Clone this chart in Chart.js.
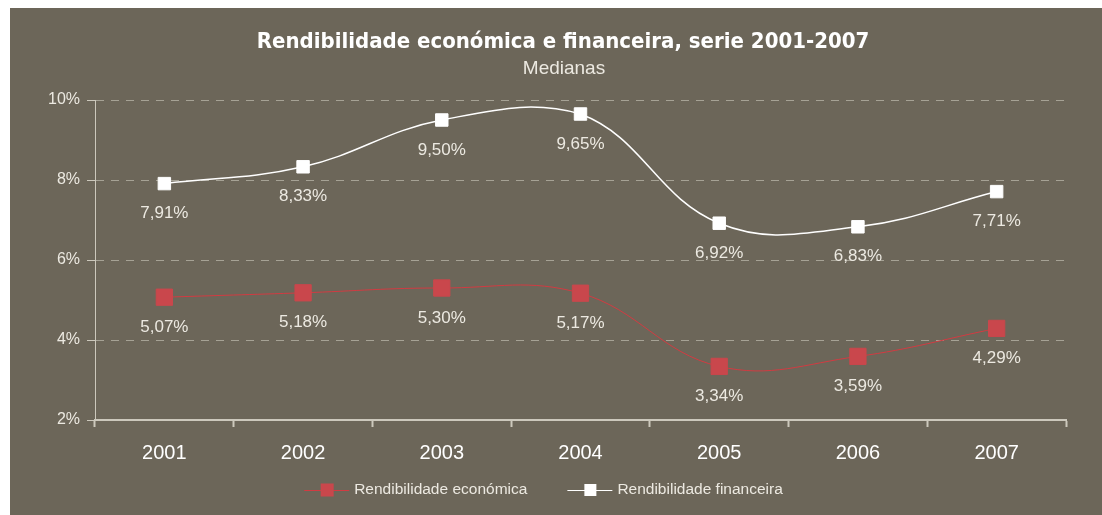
<!DOCTYPE html>
<html>
<head>
<meta charset="utf-8">
<script src="https://cdn.jsdelivr.net/npm/chart.js@4"></script>
<style>
  html, body { margin: 0; padding: 0; background: #fff; }
  #panel { position: absolute; left: 10px; top: 8px; width: 1092px; height: 507px; background: #6c6659; }
</style>
</head>
<body>
<div id="panel"><canvas id="c"></canvas></div>
<script>
// Medianas, 2001-2007
const years = ['2001', '2002', '2003', '2004', '2005', '2006', '2007'];
const rendEconomica = [5.07, 5.18, 5.30, 5.17, 3.34, 3.59, 4.29];
const rendFinanceira = [7.91, 8.33, 9.50, 9.65, 6.92, 6.83, 7.71];
const yTicks = [2, 4, 6, 8, 10];

const titleText = 'Rendibilidade económica e financeira, serie 2001-2007';
const subtitleText = 'Medianas';

const RED = '#c9474c';
const WHITE = '#ffffff';
const LABEL = '#ece9e1';
const AXIS = '#ccc8bc';
const SANS = '"Liberation Sans", Arial, sans-serif';

const fmt = v => v.toFixed(2).replace('.', ',') + '%';

// Title + subtitle: the original centres them a bit right of the plot,
// so they are drawn here rather than with the title plugin.
const heading = {
  id: 'heading',
  afterDraw(chart) {
    const ctx = chart.ctx;
    ctx.save();
    ctx.textAlign = 'center';
    ctx.textBaseline = 'middle';
    ctx.fillStyle = WHITE;
    ctx.font = 'bold 22px "DejaVu Sans Condensed", "DejaVu Sans", sans-serif';
    ctx.fillText(titleText, 553, 34);
    ctx.fillStyle = LABEL;
    ctx.font = '19px ' + SANS;
    ctx.fillText(subtitleText, 554, 60.5);
    ctx.restore();
  }
};

// Value labels under each marker.
const valueLabels = {
  id: 'valueLabels',
  afterDatasetsDraw(chart) {
    const ctx = chart.ctx;
    ctx.save();
    ctx.font = '17px ' + SANS;
    ctx.fillStyle = LABEL;
    ctx.textAlign = 'center';
    ctx.textBaseline = 'middle';
    chart.data.datasets.forEach((ds, i) => {
      chart.getDatasetMeta(i).data.forEach((pt, j) => {
        ctx.fillText(fmt(ds.data[j]), pt.x, pt.y + 30);
      });
    });
    ctx.restore();
  }
};

// Legend drawn as line-through-marker, like the original.
const lineLegend = {
  id: 'lineLegend',
  afterDraw(chart) {
    const ctx = chart.ctx;
    ctx.save();
    ctx.font = '15.5px ' + SANS;
    ctx.textBaseline = 'middle';
    const icon = 45, gapText = 5, gapItem = 40, y = 482;
    const items = chart.data.datasets.map(ds => ({ ds, w: ctx.measureText(ds.label).width }));
    const total = items.reduce((s, it) => s + icon + gapText + it.w, 0) + gapItem * (items.length - 1);
    let x = 533.5 - total / 2;
    items.forEach(({ ds, w }) => {
      ctx.strokeStyle = ds.borderColor;
      ctx.lineWidth = 1;
      ctx.beginPath();
      ctx.moveTo(x, y + 0.5);
      ctx.lineTo(x + icon, y + 0.5);
      ctx.stroke();
      const s = ds.legendBox;
      ctx.fillStyle = ds.pointBackgroundColor;
      ctx.fillRect(x + 23 - s / 2, y - s / 2, s, s);
      ctx.fillStyle = LABEL;
      ctx.fillText(ds.label, x + icon + gapText, y);
      x += icon + gapText + w + gapItem;
    });
    ctx.restore();
  }
};

new Chart(document.getElementById('c'), {
  type: 'line',
  data: {
    labels: years,
    datasets: [
      {
        label: 'Rendibilidade económica',
        data: rendEconomica,
        borderColor: '#d23b42',
        borderWidth: 1,
        tension: 0.4,
        pointStyle: 'rect',
        pointRadius: 11.5,
        pointBorderWidth: 1,
        pointBackgroundColor: RED,
        pointBorderColor: RED,
        legendBox: 13
      },
      {
        label: 'Rendibilidade financeira',
        data: rendFinanceira,
        borderColor: WHITE,
        borderWidth: 1.5,
        tension: 0.4,
        pointStyle: 'rect',
        pointRadius: 8.8,
        pointBorderWidth: 1,
        pointBackgroundColor: WHITE,
        pointBorderColor: WHITE,
        legendBox: 12
      }
    ]
  },
  options: {
    responsive: true,
    maintainAspectRatio: false,
    animation: false,
    layout: { padding: { left: 0, right: 36, top: 92, bottom: 43 } },
    plugins: {
      legend: { display: false },
      tooltip: { enabled: false },
      title: { display: false }
    },
    scales: {
      x: {
        offset: true,
        afterFit: s => { s.height = 52; },
        grid: {
          offset: true,
          drawOnChartArea: false,
          tickLength: 7,
          tickWidth: 2,
          tickColor: AXIS
        },
        border: { color: AXIS, width: 2 },
        ticks: {
          color: WHITE,
          padding: 14,
          font: { family: SANS, size: 20 }
        }
      },
      y: {
        min: 2,
        max: 10,
        afterFit: s => { s.width = 85; },
        afterBuildTicks: s => { s.ticks = yTicks.map(v => ({ value: v })); },
        grid: {
          color: '#a6a295',
          lineWidth: 1,
          tickLength: 8,
          tickColor: AXIS,
          tickBorderDash: []
        },
        border: { color: AXIS, width: 1, dash: [8, 7] },
        ticks: {
          color: LABEL,
          padding: 7,
          font: { family: SANS, size: 16 },
          callback: v => v + '%'
        }
      }
    }
  },
  plugins: [heading, valueLabels, lineLegend]
});
</script>
</body>
</html>
